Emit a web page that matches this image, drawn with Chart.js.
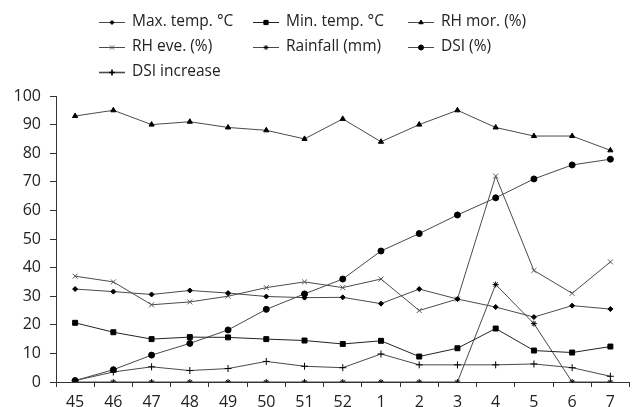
<!DOCTYPE html>
<html>
<head>
<meta charset="utf-8">
<script src="https://cdn.jsdelivr.net/npm/chart.js@4/dist/chart.umd.min.js"></script>
<style>
	html, body { margin: 0; padding: 0; background: #fff; }
	#wrap { position: relative; width: 634px; height: 407px; }
</style>
</head>
<body>
<div id="wrap"><canvas id="chart"></canvas></div>
<script>
// ============= Data =============

const weeks = ["45", "46", "47", "48", "49", "50", "51", "52", "1", "2", "3", "4", "5", "6", "7"];

const maxTemp     = [32.5, 31.6, 30.6, 32.0, 31.1, 29.9, 29.5, 29.6, 27.4, 32.5, 29.0, 26.2, 22.7, 26.7, 25.5];
const minTemp     = [20.7, 17.4, 15.0, 15.7, 15.6, 15.0, 14.5, 13.3, 14.4, 8.9, 11.8, 18.7, 11.0, 10.3, 12.4];
const rhMorning   = [93, 95, 90, 91, 89, 88, 85, 92, 84, 90, 95, 89, 86, 86, 81];
const rhEvening   = [37, 35, 27, 28, 30, 33, 35, 33, 36, 25, 29, 72, 39, 31, 42];
const rainfall    = [0, 0, 0, 0, 0, 0, 0, 0, 0, 0, 0, 34.1, 20.4, 0, 0];
const dsi         = [0.5, 4.3, 9.4, 13.5, 18.2, 25.4, 30.8, 36.0, 45.8, 51.9, 58.4, 64.4, 71.0, 75.9, 77.9];
const dsiIncrease = [0.5, 3.5, 5.3, 4.0, 4.7, 7.2, 5.5, 5.0, 9.8, 6.0, 6.0, 6.0, 6.3, 5.0, 2.0];

const yTicks = [0, 10, 20, 30, 40, 50, 60, 70, 80, 90, 100];

const FONT = "'Open Sans', Lato, sans-serif";
const INK = "#222";
const LINE = "#4a4a4a";

// ============= Utility =============

function series(label, data, pointStyle, radius, extra)
{
	return Object.assign({
		label,
		data,
		pointStyle,
		pointRadius: radius,
		pointHoverRadius: radius,
		borderColor: LINE,
		borderWidth: 1,
		pointBackgroundColor: "#000",
		pointBorderColor: "#000",
		pointBorderWidth: 1,
		tension: 0,
		fill: false
	}, extra || {});
}

// legend laid out as a 3-column grid above the plot
const legendGrid = {
	id: "legendGrid",
	afterDraw(chart)
	{
		const ctx = chart.ctx;
		const cols = [99, 253, 408];
		const rows = [22, 47, 72];

		ctx.save();
		ctx.font = "15.5px " + FONT;
		ctx.textBaseline = "middle";

		chart.data.datasets.forEach((ds, i) =>
		{
			const x = cols[i % 3];
			const y = rows[Math.floor(i / 3)];

			ctx.strokeStyle = ds.borderColor;
			ctx.lineWidth = i === 6 ? 1.6 : 1;
			ctx.beginPath();
			ctx.moveTo(x, y + 0.5);
			ctx.lineTo(x + 26, y + 0.5);
			ctx.stroke();

			ctx.fillStyle = ds.pointBackgroundColor;
			ctx.strokeStyle = ds.pointBorderColor;
			Chart.helpers.drawPoint(ctx, {
				pointStyle: ds.pointStyle,
				radius: Math.max(ds.pointRadius - 0.5, 2),
				rotation: 0,
				borderWidth: 1
			}, x + 13, y + 0.5);

			ctx.fillStyle = INK;
			ctx.fillText(ds.label, x + 33, y);
		});

		ctx.restore();
	}
};

// ============= Chart =============

new Chart(document.getElementById("chart"), {
	type: "line",
	data: {
		labels: weeks,
		datasets: [
			series("Max. temp. °C", maxTemp, "rectRot", 2.5),
			series("Min. temp. °C", minTemp, "rect", 3.5, { borderColor: "#222" }),
			series("RH mor. (%)", rhMorning, "triangle", 3),
			series("RH eve. (%)", rhEvening, "crossRot", 3.5, { pointBorderColor: "#555" }),
			series("Rainfall (mm)", rainfall, "star", 3),
			series("DSI (%)", dsi, "circle", 3),
			series("DSI increase", dsiIncrease, "cross", 3.5)
		]
	},
	options: {
		responsive: true,
		maintainAspectRatio: false,
		animation: false,
		layout: { padding: { top: 96, right: 1, left: 0, bottom: 0 } },
		plugins: { legend: { display: false }, tooltip: { enabled: false } },
		scales: {
			x: {
				offset: true,
				grid: { drawOnChartArea: false, drawTicks: true, tickLength: 5, color: "#333", offset: true },
				border: { display: true, color: "#333" },
				ticks: { color: INK, font: { family: FONT, size: 16 }, padding: 6, maxRotation: 0, autoSkip: false },
				afterFit(scale) { scale.height = 25; }
			},
			y: {
				min: 0,
				max: 100,
				afterBuildTicks(scale) { scale.ticks = yTicks.map(v => ({ value: v })); },
				grid: { drawOnChartArea: false, drawTicks: true, tickLength: 6, color: "#333" },
				border: { display: true, color: "#333" },
				ticks: { color: INK, font: { family: FONT, size: 16 }, padding: 9 },
				afterFit(scale) { scale.width = 56; }
			}
		}
	},
	plugins: [legendGrid]
});
</script>
</body>
</html>
